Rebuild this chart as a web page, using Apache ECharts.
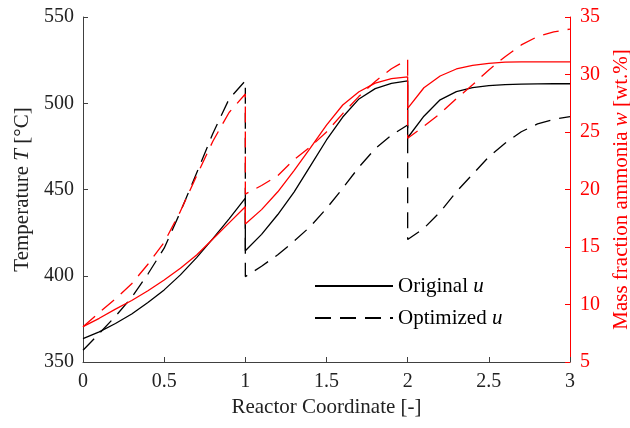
<!DOCTYPE html>
<html>
<head>
<meta charset="utf-8">
<script src="https://cdn.jsdelivr.net/npm/echarts@6/dist/echarts.min.js"></script>
<style>
  html, body { margin: 0; padding: 0; background: #fff; overflow: hidden; }
  #chart { width: 630px; height: 428px; }
</style>
</head>
<body>
<div id="chart"></div>
<script>
  // x positions, the reactor restarts at 1 and 2 so those appear twice
  const coord = [
    0, 0.1, 0.2, 0.3, 0.4, 0.5, 0.6, 0.7, 0.8, 0.9, 1,
    1, 1.1, 1.2, 1.3, 1.4, 1.5, 1.6, 1.7, 1.8, 1.9, 2,
    2, 2.1, 2.2, 2.3, 2.4, 2.5, 2.6, 2.7, 2.8, 2.9, 3,
  ];
  // temperature [°C]
  const tempOriginal = [
    363.6, 367.5, 372.3, 377.8, 384.5, 391.8, 400.5, 410.5, 421.5, 433, 445,
    414.5, 424, 435.5, 448.5, 463.5, 478.7, 492, 502.5, 508.5, 511.5, 513,
    480, 492.5, 502, 506.7, 509, 510.2, 510.8, 511.1, 511.2, 511.3, 511.3,
  ];
  const tempOptimized = [
    356.8, 366.5, 376.5, 387.5, 401, 416, 437, 459.5, 482.5, 502.5, 513,
    399.5, 405.5, 412.2, 420, 428.5, 439, 450.7, 463, 473.7, 481.5, 487.4,
    421, 427.5, 437, 448.7, 458.8, 469, 476.8, 483.5, 488, 490.7, 492.2,
  ];
  // mass fraction ammonia [wt.%]
  const massOriginal = [
    8.07, 8.8, 9.6, 10.35, 11.2, 12.13, 13.15, 14.3, 15.7, 17.1, 18.5,
    17.0, 18.25, 19.8, 21.65, 23.6, 25.6, 27.35, 28.5, 29.25, 29.65, 29.8,
    27.06, 28.85, 29.87, 30.48, 30.8, 30.97, 31.07, 31.1, 31.1, 31.1, 31.1,
  ];
  const massOptimized = [
    8.07, 9.3, 10.5, 11.8, 13.5, 15.4, 18.1, 21.2, 24.2, 26.7, 28.3,
    19.6, 20.35, 21.2, 22.6, 23.7, 25.0, 26.6, 28.1, 29.4, 30.5, 31.3,
    24.45, 25.5, 26.6, 27.9, 29.1, 30.4, 31.55, 32.57, 33.3, 33.7, 33.95,
  ];
  const legendNames = ['Original u', 'Optimized u'];

  const font = "'Liberation Serif', 'DejaVu Serif', serif";
  const axisGray = '#404040';
  const red = '#ff0000';
  const dash = [16, 9];

  const pairs = (vals) => coord.map((x, i) => [x, vals[i]]);

  const chart = echarts.init(document.getElementById('chart'), null, { renderer: 'canvas' });

  const lineSeries = (name, vals, color, type, yIdx) => ({
    name: name,
    type: 'line',
    yAxisIndex: yIdx,
    data: pairs(vals),
    symbol: 'none',
    smooth: false,
    lineStyle: { color: color, width: 1.3, type: type },
    itemStyle: { color: color },
    emphasis: { disabled: true },
  });

  chart.setOption({
    animation: false,
    textStyle: { fontFamily: font },
    grid: {
      left: 83, right: 60, top: 17, bottom: 66,
      containLabel: false,
      outerBoundsMode: 'none',
    },
    legend: {
      data: legendNames,
      orient: 'vertical',
      left: 309,
      top: 270,
      itemWidth: 78,
      itemHeight: 14,
      itemGap: 10,
      selectedMode: false,
      itemStyle: { opacity: 0 },
      formatter: (name) => {
        const p = name.split(' ');
        return '{t|' + p[0] + '} {i|' + p[1] + '}';
      },
      textStyle: {
        fontFamily: font,
        fontSize: 21,
        color: '#000',
        lineHeight: 22,
        rich: {
          t: { fontFamily: font, fontSize: 21, color: '#000' },
          i: { fontFamily: font, fontSize: 21, color: '#000', fontStyle: 'italic' },
        },
      },
    },
    xAxis: {
      type: 'value',
      min: 0,
      max: 3,
      interval: 0.5,
      name: 'Reactor Coordinate [-]',
      nameLocation: 'middle',
      nameGap: 35,
      nameTextStyle: { fontFamily: font, fontSize: 21, color: '#222' },
      axisLine: { show: true, lineStyle: { color: axisGray, width: 1 } },
      axisTick: { inside: true, length: 5, lineStyle: { color: axisGray } },
      axisLabel: { margin: 10, fontFamily: font, fontSize: 20, color: '#222' },
      splitLine: { show: false },
    },
    yAxis: [
      {
        type: 'value',
        position: 'left',
        min: 350,
        max: 550,
        interval: 50,
        name: 'Temperature {i|T} [°C]',
        nameLocation: 'middle',
        nameRotate: 90,
        nameGap: 50,
        nameTextStyle: {
          fontFamily: font, fontSize: 21, color: '#222',
          rich: { i: { fontFamily: font, fontSize: 21, color: '#222', fontStyle: 'italic' } },
        },
        axisLine: { show: true, lineStyle: { color: axisGray, width: 1 } },
        axisTick: { show: true, inside: true, length: 5, lineStyle: { color: axisGray } },
        axisLabel: { margin: 9, fontFamily: font, fontSize: 20, color: '#222' },
        splitLine: { show: false },
      },
      {
        type: 'value',
        position: 'right',
        min: 5,
        max: 35,
        interval: 5,
        name: 'Mass fraction ammonia {i|w} [wt.%]',
        nameLocation: 'middle',
        nameRotate: 90,
        nameGap: 33,
        nameTextStyle: {
          fontFamily: font, fontSize: 21, color: red,
          rich: { i: { fontFamily: font, fontSize: 21, color: red, fontStyle: 'italic' } },
        },
        axisLine: { show: true, lineStyle: { color: red, width: 1 } },
        axisTick: { show: true, inside: true, length: 5, lineStyle: { color: red } },
        axisLabel: { margin: 10, fontFamily: font, fontSize: 20, color: red },
        splitLine: { show: false },
      },
    ],
    series: [
      lineSeries('Original u', tempOriginal, '#000', 'solid', 0),
      lineSeries('Optimized u', tempOptimized, '#000', dash, 0),
      lineSeries('Original w', massOriginal, red, 'solid', 1),
      lineSeries('Optimized w', massOptimized, red, dash, 1),
    ],
  });
</script>
</body>
</html>
